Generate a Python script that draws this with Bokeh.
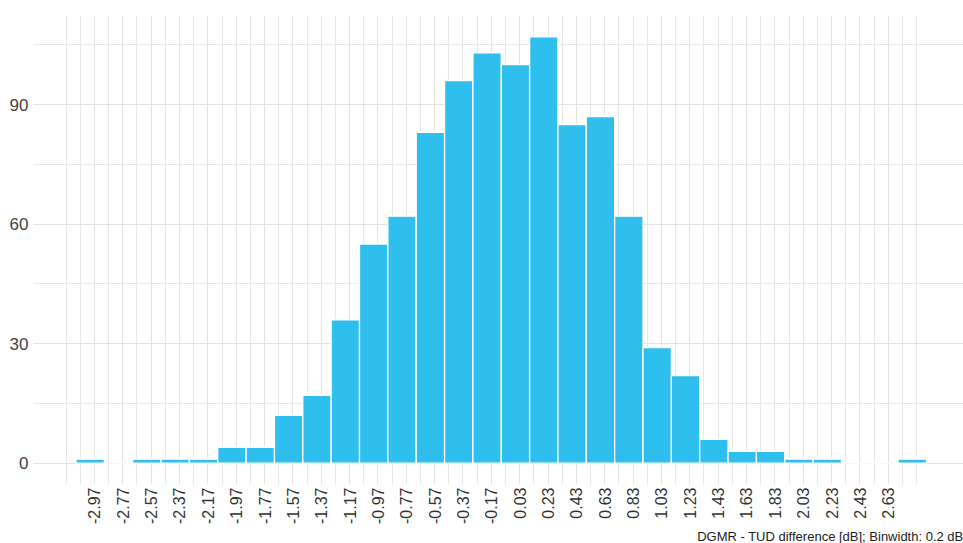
import math
from bokeh.plotting import figure
from bokeh.models import FixedTicker, ColumnDataSource, Range1d, Title
from bokeh.embed import file_html
from bokeh.resources import INLINE

# ---- data ----
bin_centers = [-3.0, -2.8, -2.6, -2.4, -2.2, -2.0, -1.8, -1.6, -1.4, -1.2,
               -1.0, -0.8, -0.6, -0.4, -0.2, 0.0, 0.2, 0.4, 0.6, 0.8,
               1.0, 1.2, 1.4, 1.6, 1.8, 2.0, 2.2, 2.4, 2.6, 2.8]
counts = [1, 0, 1, 1, 1, 4, 4, 12, 17, 36,
          55, 62, 83, 96, 103, 100, 107, 85, 87, 62,
          29, 22, 6, 3, 3, 1, 1, 0, 0, 1]
binwidth = 0.2
x_tick_labels = ["-2.97", "-2.77", "-2.57", "-2.37", "-2.17", "-1.97", "-1.77",
                 "-1.57", "-1.37", "-1.17", "-0.97", "-0.77", "-0.57", "-0.37",
                 "-0.17", "0.03", "0.23", "0.43", "0.63", "0.83", "1.03", "1.23",
                 "1.43", "1.63", "1.83", "2.03", "2.23", "2.43", "2.63"]
y_ticks = [0, 30, 60, 90]
y_minor = [15, 45, 75, 105]
x_title = "DGMR - TUD difference [dB]; Binwidth: 0.2 dB"

x_ticks = [float(s) for s in x_tick_labels]
x_minor = [round(x_ticks[0] - 0.2, 2), round(x_ticks[0] - 0.1, 2)] + \
          [round(t + 0.1, 2) for t in x_ticks] + [round(x_ticks[-1] + 0.2, 2)]

src = ColumnDataSource(dict(
    left=[c - binwidth / 2 for c in bin_centers],
    right=[c + binwidth / 2 for c in bin_centers],
    top=counts,
    bottom=[0] * len(counts),
))

W, H = 963, 543
p = figure(width=W, height=H, output_backend="svg", toolbar_location=None,
           x_range=Range1d(-3.4, 3.161), y_range=Range1d(-5.35, 112.35),
           min_border_left=33, min_border_right=0, min_border_top=15,
           min_border_bottom=56)
p.outline_line_color = None
p.background_fill_color = "white"
p.border_fill_color = "white"

p.quad(left="left", right="right", top="top", bottom="bottom", source=src,
       fill_color="#2EBFEE", line_color="white", line_width=1.3)

# axes
p.xaxis.ticker = FixedTicker(ticks=x_ticks)
p.xaxis.major_label_overrides = {t: s for t, s in zip(x_ticks, x_tick_labels)}
p.xaxis.major_label_orientation = math.pi / 2
p.xaxis.major_label_text_font = "Liberation Sans"
p.xaxis.major_label_text_font_size = "16px"
p.xaxis.major_label_text_color = "#333333"
p.xaxis.major_label_standoff = 3
p.yaxis.ticker = FixedTicker(ticks=y_ticks)
p.yaxis.major_label_text_font = "Liberation Sans"
p.yaxis.major_label_text_font_size = "17px"
p.yaxis.major_label_text_color = "#444444"
p.yaxis.major_label_standoff = 5
for ax in (p.xaxis, p.yaxis):
    ax.axis_line_color = None
    ax.major_tick_line_color = None
    ax.minor_tick_line_color = None
    ax.major_tick_out = 0
    ax.major_tick_in = 0
    ax.minor_tick_out = 0
    ax.minor_tick_in = 0

# grids
p.xgrid.ticker = FixedTicker(ticks=x_ticks, minor_ticks=x_minor)
p.ygrid.ticker = FixedTicker(ticks=y_ticks, minor_ticks=y_minor)
for g in (p.xgrid, p.ygrid):
    g.grid_line_color = "#E3E3E3"
    g.grid_line_width = 1
    g.minor_grid_line_color = "#E8E8E8"
    g.minor_grid_line_width = 1

# x axis title, right aligned below the axis
p.add_layout(Title(text=x_title, align="right", standoff=0, offset=0,
                   text_font="Liberation Sans", text_font_size="13px",
                   text_line_height=1.0,
                   text_font_style="normal", text_color="#222222"), "below")

open("out.html", "w").write(file_html(p, INLINE))
